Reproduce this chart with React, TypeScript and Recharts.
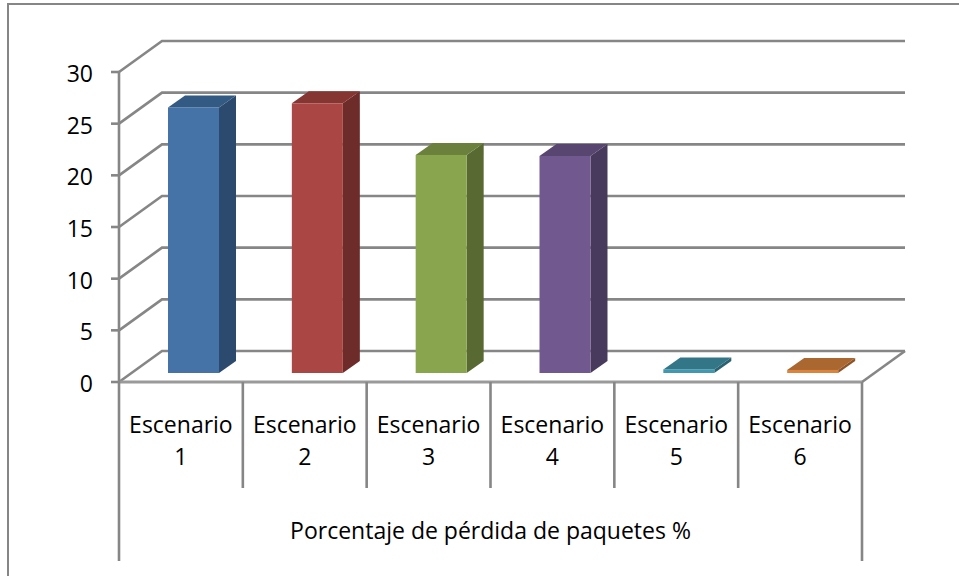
import { BarChart, Bar, XAxis, YAxis, CartesianGrid, Label } from "recharts";

const categories = ["Escenario 1", "Escenario 2", "Escenario 3", "Escenario 4", "Escenario 5", "Escenario 6"];
const lossValues = [25.7, 26.1, 21.1, 21, 0.35, 0.3];
const yTicks = [0, 5, 10, 15, 20, 25, 30];
const groupTitle = "Porcentaje de pérdida de paquetes %";

const faceColors = ["#4573a7", "#aa4644", "#89a54e", "#71588f", "#4198af", "#db843d"];
const topColors = ["#335a82", "#853633", "#6b803d", "#584570", "#337688", "#aa672f"];
const sideColors = ["#2c4a6e", "#6d2c2a", "#586a32", "#483a5c", "#2a6271", "#8d5527"];

const data = categories.map((name, i) => ({ name, value: lossValues[i] }));

const AXIS_GREY = "#868686";
const LINE_WIDTH = 2.6;
const FONT = "'Open Sans', sans-serif";
const TEXT_SIZE = 23;

// oblique projection of the box: how far the back wall sits from the front plane
const WALL_DX = 43;
const WALL_DY = -31;
// depth of a bar, and where it stands inside the floor
const BAR_DX = 17;
const BAR_DY = -12;
const BAR_SHIFT_X = 13;
const BAR_SHIFT_Y = -9;

const PLOT_LEFT = 119;
const PLOT_RIGHT = 862;
const PLOT_TOP = 72;
const PLOT_BOTTOM = 382;
const BAND = (PLOT_RIGHT - PLOT_LEFT) / categories.length;
const DIVIDER_BOTTOM = 488;
const OUTER_BOTTOM = 561;

function WallLine(props: any) {
  const { x1, y1, x2 } = props;
  const backY = y1 + WALL_DY;
  const isFloor = Math.abs(y1 - PLOT_BOTTOM) < 1;
  return (
    <g fill="none" stroke={AXIS_GREY} strokeWidth={LINE_WIDTH}>
      <polyline points={`${x1},${y1} ${x1 + WALL_DX},${backY} ${x2 + WALL_DX},${backY}`} />
      {isFloor && <line x1={x2} y1={y1} x2={x2 + WALL_DX} y2={backY} />}
    </g>
  );
}

function Box3D(props: any) {
  const { x, y, width, height, index } = props;
  const left = x + BAR_SHIFT_X;
  const right = left + width;
  const top = y + BAR_SHIFT_Y;
  const bottom = top + height;
  return (
    <g>
      <polygon
        points={`${right},${top} ${right + BAR_DX},${top + BAR_DY} ${right + BAR_DX},${bottom + BAR_DY} ${right},${bottom}`}
        fill={sideColors[index]}
      />
      <polygon
        points={`${left},${top} ${left + BAR_DX},${top + BAR_DY} ${right + BAR_DX},${top + BAR_DY} ${right},${top}`}
        fill={topColors[index]}
      />
      <rect x={left} y={top} width={width} height={height} fill={faceColors[index]} />
    </g>
  );
}

// category label in two lines, plus the dividers of the two-level axis
function CategoryTick(props: any) {
  const { x, y, payload, index } = props;
  const [word, num] = String(payload.value).split(" ");
  const rightEdge = x + BAND / 2;
  const leftEdge = x - BAND / 2;
  const isLast = index === categories.length - 1;
  return (
    <g>
      {index === 0 && (
        <line x1={leftEdge} y1={y} x2={leftEdge} y2={OUTER_BOTTOM} stroke={AXIS_GREY} strokeWidth={LINE_WIDTH} />
      )}
      <line
        x1={rightEdge}
        y1={y}
        x2={rightEdge}
        y2={isLast ? OUTER_BOTTOM : DIVIDER_BOTTOM}
        stroke={AXIS_GREY}
        strokeWidth={LINE_WIDTH}
      />
      <text x={x} y={y + 51} textAnchor="middle" fontFamily={FONT} fontSize={TEXT_SIZE} fill="#000">
        {word}
      </text>
      <text x={x} y={y + 83} textAnchor="middle" fontFamily={FONT} fontSize={TEXT_SIZE} fill="#000">
        {num}
      </text>
    </g>
  );
}

export default function App() {
  return (
    <div style={{ position: "absolute", left: 0, top: 0, width: 959, height: 576, background: "#fff", overflow: "hidden" }}>
      {/* chart area frame, open on the right and at the bottom */}
      <div
        style={{
          position: "absolute",
          left: 7,
          top: 3,
          width: 952,
          height: 573,
          borderLeft: `2px solid ${AXIS_GREY}`,
          borderTop: `2px solid ${AXIS_GREY}`,
          boxSizing: "border-box",
        }}
      />
      <BarChart
        width={959}
        height={576}
        data={data}
        barSize={51}
        margin={{ top: PLOT_TOP, left: PLOT_LEFT - 60, right: 959 - PLOT_RIGHT, bottom: 15 }}
        style={{ position: "absolute", left: 0, top: 0 }}
      >
        <CartesianGrid horizontal={(p: any) => <WallLine {...p} />} vertical={false} />
        <XAxis
          dataKey="name"
          height={179}
          interval={0}
          tickLine={false}
          tickSize={0}
          tickMargin={0}
          tick={(p: any) => <CategoryTick {...p} />}
          axisLine={{ stroke: "#9a9a9a", strokeWidth: 3 }}
        >
          <Label
            value={groupTitle}
            position="insideBottom"
            offset={22}
            style={{ fontFamily: FONT, fontSize: TEXT_SIZE, fill: "#000" }}
          />
        </XAxis>
        <YAxis
          width={60}
          domain={[0, 30]}
          ticks={yTicks}
          interval={0}
          tickSize={8}
          tickMargin={18}
          axisLine={{ stroke: AXIS_GREY, strokeWidth: LINE_WIDTH }}
          tickLine={{ stroke: AXIS_GREY, strokeWidth: LINE_WIDTH }}
          tick={{ fontFamily: FONT, fontSize: TEXT_SIZE, fill: "#000", dy: 2 }}
        />
        <Bar dataKey="value" isAnimationActive={false} shape={(p: any) => <Box3D {...p} />} />
      </BarChart>
    </div>
  );
}
